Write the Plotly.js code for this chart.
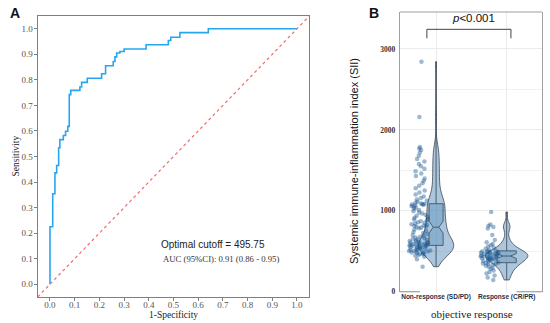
<!DOCTYPE html>
<html>
<head>
<meta charset="utf-8">
<script src="https://cdn.plot.ly/plotly-3.0.1.min.js"></script>
<style>
html,body{margin:0;padding:0;background:#fff;}
#chart{width:550px;height:323px;}
</style>
</head>
<body>
<div id="chart"></div>
<script>
// ---- Panel A: ROC curve (step points) ----
const rocFPR = [0, 0, 0.011, 0.02, 0.027, 0.035, 0.04, 0.054, 0.063, 0.072, 0.078, 0.084, 0.121, 0.128, 0.151, 0.209, 0.225, 0.256, 0.263, 0.27, 0.283, 0.3, 0.389, 0.479, 0.489, 0.526, 0.641, 1.0];
const rocTPR = [0, 0.225, 0.354, 0.436, 0.465, 0.534, 0.566, 0.582, 0.599, 0.618, 0.742, 0.759, 0.772, 0.79, 0.806, 0.824, 0.855, 0.872, 0.89, 0.905, 0.911, 0.921, 0.9375, 0.954, 0.967, 0.985, 1.0, 1.0];
const cutoffText = "Optimal cutoff = 495.75";
const aucText = "AUC (95%CI): 0.91 (0.86 - 0.95)";
const rocXTitle = "1-Specificity";
const rocYTitle = "Sensitivity";

// ---- Panel B: SII by objective response ----
const groups = ["Non-response (SD/PD)", "Response (CR/PR)"];
const siiNonResponse = [
  309, 400, 432, 445, 455, 462, 468, 474, 479, 484, 489, 494, 498, 502, 506,
  510, 514, 518, 523, 528, 533, 538, 543, 548, 553, 558, 562, 565, 568, 571,
  574, 577, 580, 583, 586, 590, 594, 598, 602, 607, 612, 617, 622, 628, 634,
  640, 647, 654, 662, 670, 679, 689, 700, 712, 725, 739, 754, 769, 783, 795,
  800, 806, 812, 819, 826, 834, 842, 851, 860, 870, 880, 891, 902, 914, 926,
  939, 952, 966, 980, 995, 1010, 1025, 1038, 1050, 1060, 1068, 1074, 1078, 1082, 1085,
  1090, 1100, 1112, 1125, 1140, 1158, 1178, 1200, 1225, 1250, 1280, 1310, 1340, 1370, 1400,
  1430, 1460, 1490, 1520, 1550, 1580, 1610, 1640, 1680, 1720, 1750, 1770, 1790, 2160, 2843
];
const siiResponse = [
  985, 830, 815, 800, 780, 700, 640, 610, 590, 575, 560, 545, 530, 520, 510,
  500, 497, 494, 490, 486, 482, 478, 474, 470, 466, 462, 457, 452, 448, 444,
  438, 434, 430, 426, 422, 418, 414, 410, 405, 400, 394, 388, 380, 372, 362,
  355, 350, 344, 338, 330, 320, 308, 295, 280, 262, 245, 225, 200, 175, 145
];
const siiTitle = "Systemic immune-inflammation index (SII)";
const groupTitle = "objective response";
const pText = "<i>p</i>&lt;0.001";

const serif = "Liberation Serif, Times New Roman, serif";
const sans = "Liberation Sans, Arial, sans-serif";
const violinFill = "rgba(70,130,180,0.45)";
const boxFill = "rgba(70,130,180,0.33)";
const outline = "#3b4856";
const pointColor = "rgba(25,85,145,0.42)";

const traces = [
  {
    type: "scatter", mode: "lines", x: rocFPR, y: rocTPR, xaxis: "x", yaxis: "y",
    line: {color: "#27A6F0", width: 1.6, shape: "hv"}, hoverinfo: "skip", showlegend: false
  },
  {
    type: "violin", x: siiNonResponse.map(() => groups[0]), y: siiNonResponse,
    xaxis: "x2", yaxis: "y2", width: 0.5, spanmode: "hard", bandwidth: 100,
    points: "all", pointpos: -0.9, jitter: 0.65,
    marker: {color: pointColor, size: 4.5, line: {width: 0}},
    fillcolor: violinFill, line: {color: outline, width: 0.8},
    box: {visible: false}, meanline: {visible: false}, showlegend: false, hoverinfo: "skip"
  },
  {
    type: "violin", x: siiResponse.map(() => groups[1]), y: siiResponse,
    xaxis: "x2", yaxis: "y2", width: 0.6, spanmode: "hard",
    points: "all", pointpos: -0.75, jitter: 0.55,
    marker: {color: pointColor, size: 4.5, line: {width: 0}},
    fillcolor: violinFill, line: {color: outline, width: 0.8},
    box: {visible: false}, meanline: {visible: false}, showlegend: false, hoverinfo: "skip"
  },
  {
    type: "box", x: siiNonResponse.map(() => groups[0]), y: siiNonResponse,
    xaxis: "x2", yaxis: "y2", width: 0.2, notched: true, notchwidth: 0.3, boxpoints: false,
    fillcolor: boxFill, line: {color: outline, width: 0.8}, whiskerwidth: 0,
    showlegend: false, hoverinfo: "skip"
  },
  {
    type: "box", x: siiResponse.map(() => groups[1]), y: siiResponse,
    xaxis: "x2", yaxis: "y2", width: 0.27, notched: true, notchwidth: 0.3, boxpoints: false,
    fillcolor: boxFill, line: {color: outline, width: 0.8}, whiskerwidth: 0,
    showlegend: false, hoverinfo: "skip"
  }
];

const layout = {
  width: 550, height: 323,
  margin: {l: 0, r: 0, t: 0, b: 0},
  paper_bgcolor: "#fff", plot_bgcolor: "rgba(0,0,0,0)",
  showlegend: false, violinmode: "overlay", boxmode: "overlay",
  xaxis: {
    domain: [0.06845, 0.56245], anchor: "y", range: [-0.05, 1.05],
    tick0: 0, dtick: 0.1, tickformat: ".1f",
    ticks: "outside", ticklen: 3, tickcolor: "#7f7f7f", tickwidth: 1, ticklabelstandoff: -4,
    showline: true, mirror: true, linecolor: "#7f7f7f", linewidth: 1,
    showgrid: false, zeroline: false,
    tickfont: {family: serif, size: 9, color: "#555"}
  },
  yaxis: {
    domain: [0.0805, 0.9505], anchor: "x", range: [-0.05, 1.05],
    tick0: 0, dtick: 0.1, tickformat: ".1f",
    ticks: "outside", ticklen: 3, tickcolor: "#7f7f7f", tickwidth: 1, ticklabelstandoff: -1,
    showline: true, mirror: true, linecolor: "#7f7f7f", linewidth: 1,
    showgrid: false, zeroline: false,
    tickfont: {family: serif, size: 9, color: "#555"}
  },
  xaxis2: {
    domain: [0.7273, 0.9855], anchor: "y2", type: "category",
    categoryorder: "array", categoryarray: groups, range: [-0.51, 1.5],
    showgrid: true, gridcolor: "#ebebeb", gridwidth: 1, ticks: "", showline: false, zeroline: false,
    tickfont: {family: sans, size: 6.5, color: "#1f2f45", weight: "bold"}
  },
  yaxis2: {
    domain: [0.0969, 0.9628], anchor: "x2", range: [0, 3457],
    tick0: 0, dtick: 1000, ticks: "", ticklabelstandoff: 2,
    showgrid: true, gridcolor: "#ebebeb", gridwidth: 1,
    minor: {dtick: 500, showgrid: true, gridcolor: "#f2f2f2", gridwidth: 1},
    showline: true, mirror: true, linecolor: "#a0a0a0", linewidth: 1.2, zeroline: false,
    tickfont: {family: serif, size: 7.5, color: "#333", weight: "bold"}
  },
  shapes: [
    {type: "line", xref: "x domain", yref: "y domain", x0: 0, y0: 0, x1: 1, y1: 1,
     line: {color: "#F26B6B", width: 1.2, dash: "dot"}},
    {type: "line", xref: "x2 domain", yref: "y2 domain", x0: 0, y0: 1, x1: 1, y1: 1,
     line: {color: "#a0a0a0", width: 1.2}},
    {type: "line", xref: "x2 domain", yref: "y2 domain", x0: 0, y0: 0, x1: 0.14, y1: 0,
     line: {color: "#a0a0a0", width: 1.2}},
    {type: "line", xref: "x2 domain", yref: "y2 domain", x0: 0.82, y0: 0, x1: 1, y1: 0,
     line: {color: "#a0a0a0", width: 1.2}},
    {type: "line", xref: "x2", yref: "y2", x0: -0.13, y0: 3243, x1: 1.06, y1: 3243,
     line: {color: "#444", width: 1}},
    {type: "line", xref: "x2", yref: "y2", x0: -0.13, y0: 3243, x1: -0.13, y1: 3132,
     line: {color: "#444", width: 1}},
    {type: "line", xref: "x2", yref: "y2", x0: 1.06, y0: 3243, x1: 1.06, y1: 3132,
     line: {color: "#444", width: 1}}
  ],
  annotations: [
    {text: "<b>A</b>", xref: "paper", yref: "paper", x: 8 / 550, y: 1 - 12.5 / 323,
     xanchor: "left", yanchor: "middle", showarrow: false,
     font: {family: sans, size: 14, color: "#111"}},
    {text: "<b>B</b>", xref: "paper", yref: "paper", x: 367 / 550, y: 1 - 12.5 / 323,
     xanchor: "left", yanchor: "middle", showarrow: false,
     font: {family: sans, size: 14, color: "#111"}},
    {text: rocXTitle, xref: "paper", yref: "paper", x: 173.5 / 550, y: 1 - 314.5 / 323,
     xanchor: "center", yanchor: "middle", showarrow: false,
     font: {family: serif, size: 9.5, color: "#222"}},
    {text: rocYTitle, xref: "paper", yref: "paper", x: 15 / 550, y: 1 - 156.5 / 323,
     xanchor: "center", yanchor: "middle", textangle: -90, showarrow: false,
     font: {family: serif, size: 9.5, color: "#222"}},
    {text: cutoffText, xref: "x", yref: "y", x: 0.4425, y: 0.156,
     xanchor: "left", yanchor: "middle", showarrow: false,
     font: {family: sans, size: 10, color: "#222"}},
    {text: aucText, xref: "x", yref: "y", x: 0.448, y: 0.1,
     xanchor: "left", yanchor: "middle", showarrow: false,
     font: {family: serif, size: 8.7, color: "#333"}},
    {text: siiTitle, xref: "paper", yref: "paper", x: 354 / 550, y: 1 - 161 / 323,
     xanchor: "center", yanchor: "middle", textangle: -90, showarrow: false,
     font: {family: sans, size: 11, color: "#111"}},
    {text: groupTitle, xref: "paper", yref: "paper", x: 471.5 / 550, y: 1 - 314 / 323,
     xanchor: "center", yanchor: "middle", showarrow: false,
     font: {family: serif, size: 11, color: "#222"}},
    {text: pText, xref: "paper", yref: "paper", x: 473 / 550, y: 1 - 18 / 323,
     xanchor: "center", yanchor: "middle", showarrow: false,
     font: {family: sans, size: 11.5, color: "#111"}}
  ]
};

Plotly.newPlot("chart", traces, layout, {staticPlot: true, displayModeBar: false});
</script>
</body>
</html>
